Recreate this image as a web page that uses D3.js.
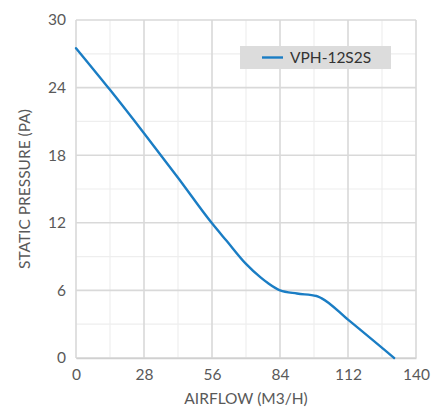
<!DOCTYPE html>
<html><head><meta charset="utf-8">
<script src="https://cdn.jsdelivr.net/npm/d3@7/dist/d3.min.js"></script>
<style>body{margin:0;background:#fff}svg{display:block}</style>
</head><body>
<script>
const seriesName = "VPH-12S2S";
const airflow  = [0, 14, 28, 42, 56, 62, 70, 76, 79, 84, 91, 99, 101, 112, 131];
const pressure = [27.5, 23.8, 19.95, 16.0, 11.95, 10.4, 8.35, 7.15, 6.65, 6.0, 5.72, 5.5, 5.32, 3.4, 0];
const xTicks = [0, 28, 56, 84, 112, 140];
const yTicks = [0, 6, 12, 18, 24, 30];
const xMinor = [14, 42, 70, 98, 126];
const yMinor = [3, 9, 15, 21, 27];

const W = 447, H = 413;
const m = {l:76, r:31, t:20, b:55};
const svg = d3.select("body").append("svg").attr("width", W).attr("height", H);
const x = d3.scaleLinear().domain([0,140]).range([m.l, W-m.r]);
const y = d3.scaleLinear().domain([0,30]).range([H-m.b, m.t]);
const font = "Lato, 'Open Sans', sans-serif";
const fs = "15.5px";

const g = svg.append("g");
g.selectAll(".vmin").data(xMinor).join("line")
  .attr("x1", d=>x(d)).attr("x2", d=>x(d)).attr("y1", y(0)).attr("y2", y(30))
  .attr("stroke", "#eeeeee").attr("stroke-width", 1.2);
g.selectAll(".hmin").data(yMinor).join("line")
  .attr("y1", d=>y(d)).attr("y2", d=>y(d)).attr("x1", x(0)).attr("x2", x(140))
  .attr("stroke", "#eeeeee").attr("stroke-width", 1.2);
g.selectAll(".vmaj").data(xTicks).join("line")
  .attr("x1", d=>x(d)).attr("x2", d=>x(d)).attr("y1", y(0)).attr("y2", y(30))
  .attr("stroke", "#d9d9d9").attr("stroke-width", 1.6);
g.selectAll(".hmaj").data(yTicks).join("line")
  .attr("y1", d=>y(d)).attr("y2", d=>y(d)).attr("x1", x(0)).attr("x2", x(140))
  .attr("stroke", "#d9d9d9").attr("stroke-width", 1.6);

const xAxis = svg.append("g").attr("transform", `translate(0,${y(0)})`)
  .call(d3.axisBottom(x).tickValues(xTicks).tickSize(0).tickPadding(11));
xAxis.select(".domain").attr("stroke", "#d0d0d0").attr("stroke-width", 1.6);
xAxis.selectAll("text").attr("fill", "#595959").style("font-family", font).style("font-size", fs);

const yAxis = svg.append("g").attr("transform", `translate(${x(0)},0)`)
  .call(d3.axisLeft(y).tickValues(yTicks).tickSize(0).tickPadding(10));
yAxis.select(".domain").remove();
yAxis.selectAll("text").attr("fill", "#595959").style("font-family", font).style("font-size", fs);

const data = airflow.map((a,i)=>[a, pressure[i]]);
svg.append("path").datum(data)
  .attr("fill", "none").attr("stroke", "#1a7dc4").attr("stroke-width", 2.4)
  .attr("stroke-linecap", "round")
  .attr("d", d3.line().x(d=>x(d[0])).y(d=>y(d[1])).curve(d3.curveMonotoneX));

svg.append("text").attr("x", (x(0)+x(140))/2).attr("y", 404)
  .attr("text-anchor", "middle").attr("fill", "#595959")
  .style("font-family", font).style("font-size", fs).text("AIRFLOW (M3/H)");
svg.append("text").attr("transform", `translate(30,${(y(0)+y(30))/2}) rotate(-90)`)
  .attr("text-anchor", "middle").attr("fill", "#595959")
  .style("font-family", font).style("font-size", fs).text("STATIC PRESSURE (PA)");

const lg = svg.append("g");
lg.append("rect").attr("x", 240).attr("y", 46).attr("width", 151).attr("height", 23).attr("fill", "#dcdcdc");
lg.append("line").attr("x1", 262).attr("x2", 283).attr("y1", 57.5).attr("y2", 57.5)
  .attr("stroke", "#1a7dc4").attr("stroke-width", 2.4);
lg.append("text").attr("x", 290).attr("y", 63).attr("fill", "#333333")
  .style("font-family", font).style("font-size", fs).text(seriesName);
</script>
</body></html>
